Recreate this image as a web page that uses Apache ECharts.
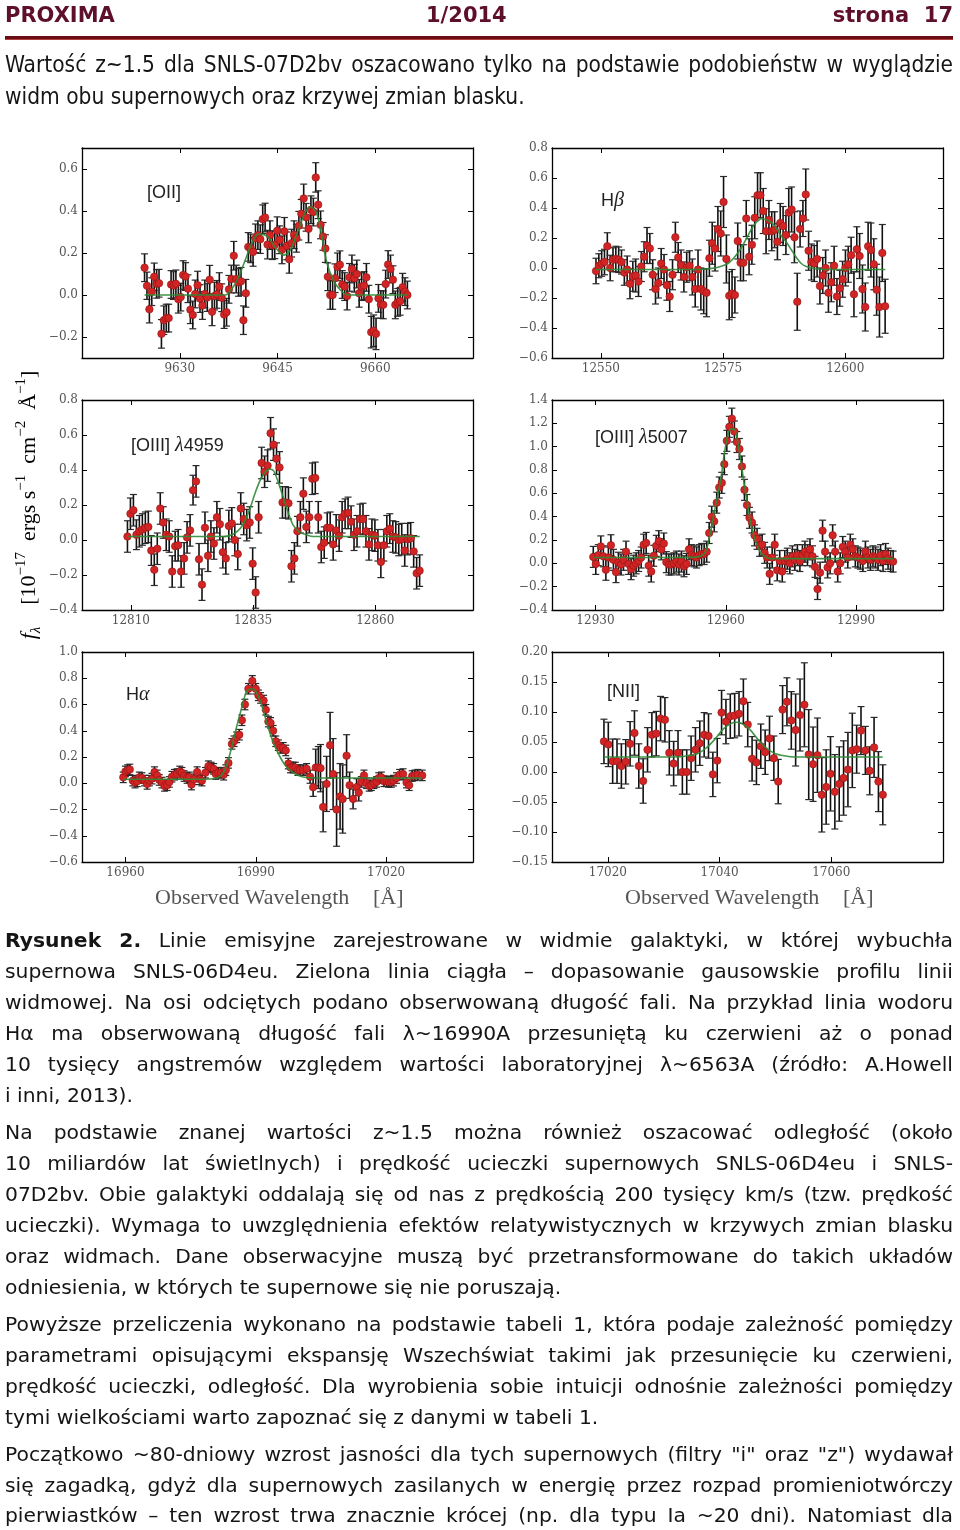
<!DOCTYPE html>
<html><head><meta charset="utf-8">
<script src="https://cdn.jsdelivr.net/npm/echarts@6/dist/echarts.min.js"></script>
<style>
html,body{margin:0;padding:0;background:#fff;}
#page{position:relative;width:960px;height:1530px;overflow:hidden;background:#fff;}
#chart{position:absolute;left:0;top:0;width:960px;height:930px;}
.hdr{position:absolute;top:1px;font-family:"DejaVu Sans",sans-serif;font-weight:bold;font-size:21px;color:#5e0f2c;line-height:28px;white-space:nowrap;}
.rule{position:absolute;left:5px;width:948px;top:36px;height:3px;background:#6a0d14;border-bottom:1px solid #b04040;}
.ln{position:absolute;left:5px;width:948px;height:30px;line-height:30px;font-family:"DejaVu Sans",Verdana,sans-serif;font-size:20.3px;color:#151515;white-space:nowrap;}
.ln .t{display:inline-block;white-space:nowrap;}
.cond{font-family:"DejaVu Sans Condensed","DejaVu Sans",sans-serif;font-stretch:condensed;font-size:22.5px;}
</style></head><body>
<div id="page">
<div id="chart"></div>
<div class="hdr" style="left:5px">PROXIMA</div>
<div class="hdr" style="left:426px">1/2014</div>
<div class="hdr" style="right:7px">strona&nbsp;&nbsp;17</div>
<div class="rule"></div>

<div class="ln cond j" style="top:49px"><span class="t">Wartość z~1.5 dla SNLS-07D2bv oszacowano tylko na podstawie podobieństw w wyglądzie</span></div>
<div class="ln cond" style="top:81px"><span class="t">widm obu supernowych oraz krzywej zmian blasku.</span></div>

<div class="ln j" style="top:925px"><span class="t"><b>Rysunek 2.</b> Linie emisyjne zarejestrowane w widmie galaktyki, w której wybuchła</span></div>
<div class="ln j" style="top:956px"><span class="t">supernowa SNLS-06D4eu. Zielona linia ciągła – dopasowanie gausowskie profilu linii</span></div>
<div class="ln j" style="top:987px"><span class="t">widmowej. Na osi odciętych podano obserwowaną długość fali. Na przykład linia wodoru</span></div>
<div class="ln j" style="top:1018px"><span class="t">Hα ma obserwowaną długość fali λ~16990A przesuniętą ku czerwieni aż o ponad</span></div>
<div class="ln j" style="top:1049px"><span class="t">10 tysięcy angstremów względem wartości laboratoryjnej λ~6563A (źródło: A.Howell</span></div>
<div class="ln" style="top:1080px"><span class="t">i inni, 2013).</span></div>

<div class="ln j" style="top:1117px"><span class="t">Na podstawie znanej wartości z~1.5 można również oszacować odległość (około</span></div>
<div class="ln j" style="top:1148px"><span class="t">10 miliardów lat świetlnych) i prędkość ucieczki supernowych SNLS-06D4eu i SNLS-</span></div>
<div class="ln j" style="top:1179px"><span class="t">07D2bv. Obie galaktyki oddalają się od nas z prędkością 200 tysięcy km/s (tzw. prędkość</span></div>
<div class="ln j" style="top:1210px"><span class="t">ucieczki). Wymaga to uwzględnienia efektów relatywistycznych w krzywych zmian blasku</span></div>
<div class="ln j" style="top:1241px"><span class="t">oraz widmach. Dane obserwacyjne muszą być przetransformowane do takich układów</span></div>
<div class="ln" style="top:1272px"><span class="t">odniesienia, w których te supernowe się nie poruszają.</span></div>

<div class="ln j" style="top:1309px"><span class="t">Powyższe przeliczenia wykonano na podstawie tabeli 1, która podaje zależność pomiędzy</span></div>
<div class="ln j" style="top:1340px"><span class="t">parametrami opisującymi ekspansję Wszechświat takimi jak przesunięcie ku czerwieni,</span></div>
<div class="ln j" style="top:1371px"><span class="t">prędkość ucieczki, odległość. Dla wyrobienia sobie intuicji odnośnie zależności pomiędzy</span></div>
<div class="ln" style="top:1402px"><span class="t">tymi wielkościami warto zapoznać się z danymi w tabeli 1.</span></div>

<div class="ln j" style="top:1439px"><span class="t">Początkowo ~80-dniowy wzrost jasności dla tych supernowych (filtry "i" oraz "z") wydawał</span></div>
<div class="ln j" style="top:1470px"><span class="t">się zagadką, gdyż dla supernowych zasilanych w energię przez rozpad promieniotwórczy</span></div>
<div class="ln j" style="top:1500px"><span class="t">pierwiastków – ten wzrost trwa znacznie krócej (np. dla typu Ia ~20 dni). Natomiast dla</span></div>
</div>

<script>
// ---------------- DATA ----------------
// Panel 1: [OII]
const p1x=[9624.60,9624.97,9625.34,9625.71,9626.08,9626.45,9626.82,9627.19,9627.56,9627.93,
9628.30,9628.67,9629.04,9629.41,9629.78,9630.15,9630.52,9630.89,9631.26,9631.63,
9632.00,9632.37,9632.74,9633.11,9633.48,9633.85,9634.22,9634.59,9634.96,9635.33,
9635.70,9636.07,9636.44,9636.81,9637.18,9637.55,9637.92,9638.29,9638.66,9639.03,
9639.40,9639.77,9640.14,9640.51,9640.88,9641.25,9641.62,9641.99,9642.36,9642.73,
9643.10,9643.47,9643.84,9644.21,9644.58,9644.95,9645.32,9645.69,9646.06,9646.43,
9646.80,9647.17,9647.54,9647.91,9648.28,9648.65,9649.02,9649.39,9649.76,9650.13,
9650.50,9650.87,9651.24,9651.61,9651.98,9652.35,9652.72,9653.09,9653.46,9653.83,
9654.20,9654.57,9654.94,9655.31,9655.68,9656.05,9656.42,9656.79,9657.16,9657.53,
9657.90,9658.27,9658.64,9659.01,9659.38,9659.75,9660.12,9660.49,9660.86,9661.23,
9661.60,9661.97,9662.34,9662.71,9663.08,9663.45,9663.82,9664.19,9664.56,9664.93];
const p1y=[0.13,0.044,-0.068,0.016,0.087,0.053,0.056,-0.185,-0.12,-0.11,
-0.11,0.05,0.045,0.053,-0.02,-0.01,0.095,0.088,0.03,-0.07,
-0.095,0.005,0.047,-0.017,-0.05,0.005,-0.012,0.073,-0.08,-0.005,
0.003,0.04,-0.013,-0.093,-0.082,0.027,0.076,0.187,0.076,0.06,
0.065,-0.12,0.008,0.229,0.222,0.205,0.27,0.285,0.266,0.361,
0.369,0.24,0.285,0.237,0.239,0.306,0.263,0.215,0.303,0.234,
0.17,0.247,0.287,0.27,0.33,0.387,0.46,0.37,0.315,0.406,
0.395,0.56,0.43,0.334,0.279,0.221,0.087,0.0,0.0,0.08,
0.134,0.144,0.05,0.04,-0.005,0.084,0.124,0.08,0.1,0.008,
0.04,0.045,0.084,-0.02,-0.177,-0.17,-0.185,-0.016,-0.045,-0.047,
0.052,0.145,0.124,0.073,-0.047,-0.035,-0.03,0.037,0.016,0.0];
const p1e=[0.066,0.065,0.065,0.066,0.065,0.068,0.066,0.068,0.068,0.066,
0.066,0.066,0.066,0.066,0.066,0.066,0.068,0.066,0.066,0.066,
0.066,0.066,0.066,0.066,0.066,0.066,0.066,0.068,0.066,0.066,
0.066,0.066,0.066,0.066,0.066,0.066,0.066,0.068,0.066,0.066,
0.066,0.068,0.066,0.068,0.068,0.068,0.068,0.068,0.068,0.068,
0.068,0.068,0.068,0.068,0.066,0.066,0.066,0.066,0.066,0.066,
0.066,0.066,0.066,0.066,0.068,0.068,0.068,0.066,0.066,0.066,
0.066,0.07,0.066,0.066,0.066,0.066,0.066,0.068,0.068,0.068,
0.066,0.066,0.066,0.066,0.066,0.066,0.066,0.066,0.066,0.066,
0.066,0.066,0.066,0.066,0.075,0.075,0.075,0.066,0.066,0.066,
0.066,0.066,0.066,0.066,0.066,0.066,0.066,0.066,0.066,0.066];
const p1fx=[9624.6,9637.0,9637.5,9638.8,9640.1,9641.1,9642.1,9643.4,9644.6,9645.9,9646.9,9648.2,9649.2,9650.1,9651.0,9651.8,9652.6,9653.6,9654.6,9655.9,9664.9];
const p1fy=[0,0,0.01,0.07,0.17,0.25,0.29,0.28,0.23,0.19,0.21,0.31,0.39,0.42,0.39,0.28,0.15,0.07,0.025,0.0,0.0];
const p1xt=[9630,9645,9660];
const p1yt=[-0.2,0,0.2,0.4,0.6];

// Panel 2: H-beta
const p2x=[12549.00,12549.58,12550.16,12550.74,12551.32,12551.90,12552.48,12553.06,12553.64,12554.22,
12554.80,12555.38,12555.96,12556.54,12557.12,12557.70,12558.28,12558.86,12559.44,12560.02,
12560.60,12561.18,12561.76,12562.34,12562.92,12563.50,12564.08,12564.66,12565.24,12565.82,
12566.40,12566.98,12567.56,12568.14,12568.72,12569.30,12569.88,12570.46,12571.04,12571.62,
12572.20,12572.78,12573.36,12573.94,12574.52,12575.10,12575.68,12576.26,12576.84,12577.42,
12578.00,12578.58,12579.16,12579.74,12580.32,12580.90,12581.48,12582.06,12582.64,12583.22,
12583.80,12584.38,12584.96,12585.54,12586.12,12586.70,12587.28,12587.86,12588.44,12589.02,
12589.60,12590.18,12590.76,12591.34,12591.92,12592.50,12593.08,12593.66,12594.24,12594.82,
12595.40,12595.98,12596.56,12597.14,12597.72,12598.30,12598.88,12599.46,12600.04,12600.62,
12601.20,12601.78,12602.36,12602.94,12603.52,12604.10,12604.68,12605.26,12605.84,12606.42,
12607.00,12607.58,12608.16];
const p2y=[-0.02,0.015,0.03,0.04,0.145,0.0,0.055,0.06,0.055,0.04,
-0.03,-0.01,-0.105,-0.055,-0.05,-0.09,0.01,0.075,0.15,0.13,
-0.045,-0.14,-0.1,0.03,-0.01,-0.115,-0.19,-0.045,0.205,0.07,
0.02,-0.06,0.005,0.015,-0.06,-0.14,-0.01,-0.14,-0.155,-0.165,
0.065,0.165,0.13,0.26,0.23,0.44,0.06,-0.185,-0.17,-0.18,
0.18,0.035,0.035,0.33,0.075,0.155,0.335,0.485,0.485,0.38,
0.245,0.32,0.245,0.255,0.175,0.3,0.28,0.22,0.37,0.39,
0.205,-0.225,0.26,0.33,0.49,0.115,0.04,0.03,0.06,-0.12,
-0.05,0.0,-0.165,-0.095,0.015,-0.19,-0.135,-0.075,0.0,0.025,
0.085,-0.175,0.125,0.08,-0.14,-0.26,0.145,0.12,0.025,-0.145,
-0.26,0.1,-0.255];
const p2e=[0.085,0.08,0.085,0.085,0.09,0.085,0.08,0.085,0.085,0.08,
0.085,0.09,0.1,0.1,0.11,0.1,0.1,0.1,0.12,0.1,
0.1,0.1,0.1,0.1,0.1,0.1,0.1,0.1,0.1,0.1,
0.1,0.1,0.1,0.1,0.12,0.12,0.13,0.14,0.15,0.16,
0.12,0.14,0.15,0.15,0.15,0.17,0.16,0.16,0.16,0.12,
0.12,0.12,0.12,0.12,0.12,0.13,0.14,0.15,0.15,0.15,
0.15,0.13,0.13,0.12,0.12,0.13,0.13,0.13,0.16,0.15,
0.17,0.19,0.12,0.12,0.17,0.13,0.12,0.12,0.12,0.12,
0.12,0.12,0.13,0.13,0.13,0.12,0.12,0.12,0.12,0.12,
0.12,0.15,0.15,0.15,0.16,0.16,0.16,0.18,0.17,0.17,
0.2,0.19,0.18];
const p2fx=[12549.0,12570,12572,12574,12576,12577,12578,12579,12580,12581,12582,12583,12584,12585,12586,12587,12588,12589,12590,12591,12592,12594,12596,12608.2];
const p2fy=[-0.01,-0.01,-0.005,0.005,0.03,0.06,0.1,0.15,0.21,0.27,0.31,0.33,0.32,0.3,0.26,0.21,0.17,0.12,0.07,0.03,0.01,-0.005,-0.01,-0.01];
const p2xt=[12550,12575,12600];
const p2yt=[-0.6,-0.4,-0.2,0,0.2,0.4,0.6,0.8];

// Panel 3: [OIII] 4959
const p3x=[12809.30,12809.91,12810.52,12811.13,12811.74,12812.35,12812.96,12813.57,12814.18,12814.79,
12815.40,12816.01,12816.62,12817.23,12817.84,12818.45,12819.06,12819.67,12820.28,12820.89,
12821.50,12822.11,12822.72,12823.33,12823.94,12824.55,12825.16,12825.77,12826.38,12826.99,
12827.60,12828.21,12828.82,12829.43,12830.04,12830.65,12831.26,12831.87,12832.48,12833.09,
12833.70,12834.31,12834.92,12835.53,12836.14,12836.75,12837.36,12837.97,12838.58,12839.19,
12839.80,12840.41,12841.02,12841.63,12842.24,12842.85,12843.46,12844.07,12844.68,12845.29,
12845.90,12846.51,12847.12,12847.73,12848.34,12848.95,12849.56,12850.17,12850.78,12851.39,
12852.00,12852.61,12853.22,12853.83,12854.44,12855.05,12855.66,12856.27,12856.88,12857.49,
12858.10,12858.71,12859.32,12859.93,12860.54,12861.15,12861.76,12862.37,12862.98,12863.59,
12864.20,12864.81,12865.42,12866.03,12866.64,12867.25,12867.86,12868.47,12869.08];
const p3y=[0.02,0.15,0.17,0.03,0.05,0.06,0.07,0.075,-0.06,-0.17,
-0.05,0.18,0.1,0.03,0.02,-0.18,-0.035,-0.03,-0.18,-0.105,
0.015,0.055,0.285,0.335,-0.11,-0.255,0.07,-0.09,0.02,-0.02,
0.13,0.09,-0.07,-0.105,0.08,0.095,0.0,-0.08,0.18,0.12,
0.085,0.1,-0.135,-0.3,0.13,0.44,0.39,0.425,0.61,0.545,
0.465,0.415,0.215,0.215,0.21,-0.15,-0.105,0.05,0.13,0.265,
0.075,0.13,0.35,0.355,0.13,-0.04,-0.015,0.07,0.07,-0.025,
0.055,0.025,0.13,0.15,0.155,0.105,0.03,0.05,0.12,0.12,
0.05,-0.025,0.03,0.025,-0.03,-0.125,-0.03,0.05,0.065,0.02,
0.015,0.0,0.005,-0.06,0.005,0.01,-0.065,-0.19,-0.175];
const p3e=[0.09,0.09,0.09,0.085,0.09,0.09,0.09,0.09,0.085,0.09,
0.09,0.09,0.09,0.09,0.09,0.09,0.085,0.09,0.09,0.09,
0.09,0.09,0.085,0.09,0.09,0.09,0.09,0.09,0.09,0.09,
0.09,0.09,0.09,0.09,0.09,0.09,0.09,0.09,0.09,0.09,
0.09,0.09,0.09,0.09,0.09,0.09,0.09,0.09,0.09,0.09,
0.09,0.09,0.09,0.09,0.09,0.09,0.09,0.085,0.09,0.09,
0.09,0.09,0.09,0.09,0.09,0.09,0.09,0.085,0.09,0.09,
0.09,0.09,0.09,0.085,0.09,0.09,0.09,0.09,0.085,0.09,
0.09,0.09,0.09,0.09,0.09,0.09,0.09,0.09,0.085,0.09,
0.09,0.09,0.09,0.09,0.09,0.09,0.09,0.09,0.09];
const p3fx=[12809.3,12829.0,12830.2,12831.6,12833.0,12834.3,12835.7,12837.0,12838.4,12839.2,12840.1,12841.1,12842.2,12843.2,12844.5,12845.9,12847.3,12869.1];
const p3fy=[0.02,0.02,0.025,0.045,0.09,0.175,0.29,0.37,0.405,0.395,0.335,0.25,0.155,0.085,0.045,0.03,0.02,0.02];
const p3xt=[12810,12835,12860];
const p3yt=[-0.4,-0.2,0,0.2,0.4,0.6,0.8];

// Panel 4: [OIII] 5007
const p4x=[12929.50,12930.08,12930.66,12931.24,12931.82,12932.40,12932.98,12933.56,12934.14,12934.72,
12935.30,12935.88,12936.46,12937.04,12937.62,12938.20,12938.78,12939.36,12939.94,12940.52,
12941.10,12941.68,12942.26,12942.84,12943.42,12944.00,12944.58,12945.16,12945.74,12946.32,
12946.90,12947.48,12948.06,12948.64,12949.22,12949.80,12950.38,12950.96,12951.54,12952.12,
12952.70,12953.28,12953.86,12954.44,12955.02,12955.60,12956.18,12956.76,12957.34,12957.92,
12958.50,12959.08,12959.66,12960.24,12960.82,12961.40,12961.98,12962.56,12963.14,12963.72,
12964.30,12964.88,12965.46,12966.04,12966.62,12967.20,12967.78,12968.36,12968.94,12969.52,
12970.10,12970.68,12971.26,12971.84,12972.42,12973.00,12973.58,12974.16,12974.74,12975.32,
12975.90,12976.48,12977.06,12977.64,12978.22,12978.80,12979.38,12979.96,12980.54,12981.12,
12981.70,12982.28,12982.86,12983.44,12984.02,12984.60,12985.18,12985.76,12986.34,12986.92,
12987.50,12988.08,12988.66,12989.24,12989.82,12990.40,12990.98,12991.56,12992.14,12992.72,
12993.30,12993.88,12994.46,12995.04,12995.62,12996.20,12996.78,12997.36,12997.94,12998.52];
const p4y=[0.055,-0.005,0.07,0.145,0.06,-0.055,0.05,0.155,0.03,-0.075,
0.005,-0.01,0.03,0.1,-0.005,-0.05,-0.02,0.0,0.02,0.05,
0.16,0.175,-0.02,-0.07,0.065,0.15,0.19,0.12,0.17,0.01,
-0.01,-0.01,0.0,0.015,-0.01,0.015,-0.025,-0.005,0.12,0.07,
0.06,0.05,0.07,0.08,0.08,0.1,0.26,0.4,0.36,0.52,
0.65,0.69,0.85,1.05,1.17,1.24,1.13,1.04,0.98,0.83,
0.63,0.5,0.39,0.35,0.24,0.21,0.15,0.16,0.09,0.05,
-0.09,0.05,0.16,-0.06,0.02,-0.07,0.02,0.04,0.0,0.06,
0.03,0.07,0.02,0.07,0.1,0.07,0.12,0.06,-0.03,-0.22,
-0.08,0.28,0.1,-0.035,0.0,0.24,0.1,-0.07,0.0,0.14,
0.1,0.05,0.16,0.12,0.06,0.05,0.04,0.02,0.1,0.05,
0.03,0.06,0.05,0.03,0.07,0.02,0.08,0.04,0.02,0.015];
const p4e=[0.09,0.09,0.09,0.09,0.09,0.09,0.09,0.09,0.09,0.09,
0.09,0.09,0.09,0.09,0.09,0.09,0.09,0.09,0.09,0.09,
0.09,0.09,0.09,0.09,0.09,0.09,0.09,0.09,0.09,0.09,
0.09,0.09,0.09,0.09,0.09,0.09,0.09,0.09,0.09,0.09,
0.09,0.09,0.09,0.09,0.09,0.09,0.09,0.09,0.09,0.09,
0.09,0.09,0.09,0.09,0.09,0.09,0.09,0.09,0.09,0.09,
0.09,0.09,0.09,0.09,0.09,0.09,0.09,0.09,0.09,0.09,
0.09,0.09,0.09,0.09,0.09,0.09,0.09,0.09,0.09,0.09,
0.09,0.09,0.09,0.09,0.09,0.09,0.09,0.09,0.09,0.09,
0.09,0.09,0.09,0.09,0.09,0.09,0.09,0.09,0.09,0.09,
0.09,0.09,0.09,0.09,0.09,0.09,0.09,0.09,0.09,0.09,
0.09,0.09,0.09,0.09,0.09,0.09,0.09,0.09,0.09,0.09];
const p4fx=[12929.5,12940,12950,12953.5,12955.0,12955.8,12956.6,12957.3,12958.1,12958.9,12959.6,12960.4,12961.1,12961.9,12962.7,12963.4,12964.2,12965.0,12965.7,12966.5,12967.3,12968.0,12969.2,12970.3,12980,12998.5];
const p4fy=[0.05,0.05,0.05,0.055,0.08,0.15,0.29,0.43,0.58,0.73,0.92,1.09,1.15,1.15,1.05,0.89,0.69,0.51,0.35,0.23,0.15,0.09,0.055,0.04,0.04,0.04];
const p4xt=[12930,12960,12990];
const p4yt=[-0.4,-0.2,0,0.2,0.4,0.6,0.8,1.0,1.2,1.4];

// Panel 5: H-alpha
const p5x=[16959.5,16960.0,16960.5,16961.0,16961.7,16962.2,16962.7,16963.2,16963.8,16964.4,
16965.0,16965.5,16966.1,16966.7,16967.3,16967.8,16968.4,16969.0,16969.6,16970.1,
16970.7,16971.3,16971.9,16972.5,16973.0,16973.5,16974.2,16974.7,16975.2,16975.8,
16976.5,16977.1,16977.6,16978.4,16979.1,16979.7,16980.3,16980.8,16981.4,16982.0,
16982.6,16983.1,16983.7,16984.5,16985.0,16985.6,16986.2,16986.8,16987.5,16988.3,16989.2,
16990.0,16990.6,16991.1,16991.8,16992.3,16992.9,16993.4,16994.0,16994.6,16995.2,
16995.7,16996.3,16996.9,16997.5,16998.0,16998.6,16999.1,16999.7,17000.2,17000.9,
17001.7,17002.5,17003.2,17003.8,17004.4,17004.9,17005.5,17006.3,17007.1,17007.8,
17008.6,17009.4,17010.0,17010.9,17011.6,17012.4,17013.2,17013.7,17014.3,17014.9,
17015.5,17016.1,17016.6,17017.2,17017.8,17018.3,17018.9,17019.5,17020.1,17020.6,
17021.2,17021.7,17022.4,17023.1,17023.9,17024.7,17025.3,17026.0,17026.6,17027.3,17028.3];
const p5y=[0.045,0.09,0.1,0.105,0.02,0.005,0.015,0.045,0.04,0.02,
-0.005,0.02,0.035,0.085,0.06,0.025,0.005,-0.02,-0.015,0.01,
0.05,0.065,0.07,0.09,0.08,0.055,0.04,0.045,-0.01,0.03,
0.085,0.03,0.02,0.08,0.13,0.12,0.11,0.07,0.08,0.08,
0.065,0.1,0.155,0.3,0.32,0.35,0.37,0.48,0.6,0.72,0.78,
0.72,0.67,0.65,0.63,0.56,0.47,0.46,0.4,0.32,0.29,
0.27,0.27,0.25,0.15,0.12,0.12,0.12,0.1,0.1,0.1,
0.11,0.05,-0.03,0.12,0.12,0.115,-0.18,-0.005,0.29,0.07,
-0.2,-0.1,-0.12,0.21,-0.015,-0.12,-0.03,-0.07,0.01,0.06,
0.0,-0.02,-0.015,0.0,0.01,0.04,0.045,0.015,0.015,0.01,
0.01,0.02,0.04,0.065,0.07,0.005,-0.015,0.055,0.06,0.065,0.06];
const p5e=[0.04,0.04,0.04,0.04,0.04,0.04,0.04,0.04,0.04,0.04,
0.04,0.04,0.04,0.04,0.04,0.04,0.04,0.04,0.04,0.04,
0.04,0.04,0.04,0.04,0.04,0.04,0.04,0.04,0.04,0.04,
0.04,0.04,0.04,0.04,0.04,0.04,0.04,0.04,0.04,0.04,
0.04,0.04,0.04,0.04,0.04,0.04,0.04,0.04,0.04,0.04,
0.04,0.04,0.04,0.04,0.04,0.04,0.04,0.04,0.04,0.04,
0.04,0.04,0.04,0.04,0.04,0.04,0.04,0.04,0.04,0.04,
0.04,0.04,0.05,0.07,0.14,0.16,0.18,0.19,0.21,0.25,
0.27,0.28,0.25,0.26,0.16,0.1,0.075,0.065,0.065,0.04,
0.04,0.04,0.04,0.04,0.04,0.04,0.04,0.04,0.04,0.04,
0.04,0.04,0.04,0.04,0.04,0.04,0.04,0.04,0.04,0.04,0.04,0.04];
const p5fx=[16959.5,16978,16981.0,16982.2,16983.3,16984.5,16985.6,16986.8,16987.9,16989.1,16989.8,16991.0,16992.1,16993.3,16994.4,16995.6,16996.7,16997.9,16999.4,17000.9,17003.2,17028.3];
const p5fy=[0.03,0.03,0.04,0.065,0.14,0.28,0.43,0.58,0.7,0.72,0.71,0.63,0.51,0.38,0.28,0.2,0.14,0.1,0.065,0.048,0.04,0.04];
const p5xt=[16960,16990,17020];
const p5yt=[-0.6,-0.4,-0.2,0,0.2,0.4,0.6,0.8,1.0];

// Panel 6: [NII]
const p6x=[17019.30,17020.08,17020.86,17021.64,17022.42,17023.20,17023.98,17024.76,17025.54,17026.32,
17027.10,17027.88,17028.66,17029.44,17030.22,17031.00,17031.78,17032.56,17033.34,17034.12,
17034.90,17035.68,17036.46,17037.24,17038.02,17038.80,17039.58,17040.36,17041.14,17041.92,
17042.70,17043.48,17044.26,17045.04,17045.82,17046.60,17047.38,17048.16,17048.94,17049.72,
17050.50,17051.28,17052.06,17052.84,17053.62,17054.40,17055.18,17055.96,17056.74,17057.52,
17058.30,17059.08,17059.86,17060.64,17061.42,17062.20,17062.98,17063.76,17064.54,17065.32,
17066.10,17066.88,17067.66,17068.44,17069.22];
const p6y=[0.051,0.046,0.018,0.018,0.01,0.017,0.047,0.065,0.01,-0.015,
0.037,0.062,0.064,0.089,0.087,0.032,0.014,0.032,0.0,0.0,
0.023,0.037,0.048,0.062,0.06,-0.004,0.019,0.099,0.084,0.093,
0.094,0.097,0.118,0.079,0.022,0.016,0.043,0.033,0.056,0.023,
-0.016,0.104,0.117,0.086,0.07,0.095,0.112,0.029,0.013,0.028,
-0.038,-0.025,-0.003,-0.033,-0.02,-0.01,0.004,0.036,0.038,0.069,
0.036,0.002,0.041,-0.016,-0.038];
const p6e=[0.037,0.037,0.037,0.037,0.037,0.037,0.037,0.037,0.037,0.037,
0.037,0.037,0.037,0.037,0.037,0.037,0.037,0.037,0.037,0.037,
0.037,0.037,0.037,0.037,0.037,0.037,0.037,0.037,0.037,0.037,
0.037,0.037,0.037,0.037,0.037,0.037,0.037,0.037,0.037,0.037,
0.037,0.04,0.04,0.048,0.06,0.06,0.07,0.075,0.062,0.062,
0.062,0.062,0.062,0.062,0.062,0.062,0.062,0.062,0.04,0.04,
0.04,0.04,0.05,0.05,0.05];
const p6fx=[17019.3,17032,17034.3,17036.1,17037.6,17039.1,17040.6,17042.1,17043.0,17043.9,17045.4,17046.9,17048.4,17049.9,17051.6,17053.4,17069.2];
const p6fy=[0.025,0.025,0.027,0.031,0.04,0.054,0.071,0.081,0.083,0.081,0.071,0.054,0.04,0.031,0.027,0.025,0.025];
const p6xt=[17020,17040,17060];
const p6yt=[-0.15,-0.10,-0.05,0,0.05,0.10,0.15,0.20];

// ---------------- LAYOUT / STYLE ----------------
const panels=[
 {x:p1x,y:p1y,e:p1e,fx:p1fx,fy:p1fy,xt:p1xt,yt:p1yt,xr:[9615,9675],yr:[-0.3,0.7],dec:1,pos:[82,148]},
 {x:p2x,y:p2y,e:p2e,fx:p2fx,fy:p2fy,xt:p2xt,yt:p2yt,xr:[12540,12620],yr:[-0.6,0.8],dec:1,pos:[552,148]},
 {x:p3x,y:p3y,e:p3e,fx:p3fx,fy:p3fy,xt:p3xt,yt:p3yt,xr:[12800,12880],yr:[-0.4,0.8],dec:1,pos:[82,400]},
 {x:p4x,y:p4y,e:p4e,fx:p4fx,fy:p4fy,xt:p4xt,yt:p4yt,xr:[12920,13010],yr:[-0.4,1.4],dec:1,pos:[552,400]},
 {x:p5x,y:p5y,e:p5e,fx:p5fx,fy:p5fy,xt:p5xt,yt:p5yt,xr:[16950,17040],yr:[-0.6,1.0],dec:1,pos:[82,652]},
 {x:p6x,y:p6y,e:p6e,fx:p6fx,fy:p6fy,xt:p6xt,yt:p6yt,xr:[17010,17080],yr:[-0.15,0.20],dec:2,pos:[552,652]}
];
const GW=391, GH=210;
const LBL={fontFamily:'DejaVu Serif',fontSize:12,color:'#555'};
const grid=[],xAxis=[],yAxis=[],series=[];
function fmtY(d){return v=>(v<-1e-9?'\u2212':'')+Math.abs(v).toFixed(d);}
function renderErr(params,api){
  const x=api.value(0),y=api.value(1),e=api.value(2);
  const t=api.coord([x,y+e]),b=api.coord([x,y-e]);
  const hw=3.5, st={stroke:'#111',lineWidth:1.6};
  return {type:'group',children:[
    {type:'line',shape:{x1:t[0],y1:t[1],x2:b[0],y2:b[1]},style:st},
    {type:'line',shape:{x1:t[0]-hw,y1:t[1],x2:t[0]+hw,y2:t[1]},style:{stroke:'#2a2a2a',lineWidth:1.2}},
    {type:'line',shape:{x1:b[0]-hw,y1:b[1],x2:b[0]+hw,y2:b[1]},style:{stroke:'#2a2a2a',lineWidth:1.2}}
  ]};
}
panels.forEach((p,k)=>{
  grid.push({left:p.pos[0],top:p.pos[1],width:GW,height:GH,containLabel:false});
  const axLine={show:true,onZero:false,lineStyle:{color:'#000',width:1.3}};
  const tick=(vals)=>({show:true,inside:true,length:5,customValues:vals,lineStyle:{color:'#000',width:1}});
  xAxis.push({gridIndex:k,type:'value',min:p.xr[0],max:p.xr[1],position:'bottom',axisLine:axLine,axisTick:tick(p.xt),
    axisLabel:Object.assign({show:true,customValues:p.xt,margin:5,formatter:v=>String(Math.round(v))},LBL),splitLine:{show:false}});
  xAxis.push({gridIndex:k,type:'value',min:p.xr[0],max:p.xr[1],position:'top',axisLine:axLine,axisTick:tick(p.xt),
    axisLabel:{show:false},splitLine:{show:false}});
  yAxis.push({gridIndex:k,type:'value',min:p.yr[0],max:p.yr[1],position:'left',axisLine:axLine,axisTick:tick(p.yt),
    axisLabel:Object.assign({show:true,customValues:p.yt,margin:4,formatter:fmtY(p.dec)},LBL),splitLine:{show:false}});
  yAxis.push({gridIndex:k,type:'value',min:p.yr[0],max:p.yr[1],position:'right',axisLine:axLine,axisTick:tick(p.yt),
    axisLabel:{show:false},splitLine:{show:false}});
  series.push({type:'custom',xAxisIndex:2*k,yAxisIndex:2*k,renderItem:renderErr,encode:{x:0,y:1},
    data:p.x.map((x,i)=>[x,p.y[i],p.e[i]]),z:2,silent:true});
  series.push({type:'scatter',xAxisIndex:2*k,yAxisIndex:2*k,symbol:'circle',symbolSize:7.5,
    itemStyle:{color:'#d22424',borderColor:'#8e1414',borderWidth:0.6,opacity:1},
    data:p.x.map((x,i)=>[x,p.y[i]]),z:3,silent:true});
  series.push({type:'line',xAxisIndex:2*k,yAxisIndex:2*k,showSymbol:false,smooth:0.3,
    lineStyle:{color:'#2f8a35',width:1.6,opacity:0.9},data:p.fx.map((x,i)=>[x,p.fy[i]]),z:4,silent:true});
});

const SANS='"Liberation Sans", Arial, sans-serif', SERIF='"Liberation Serif", serif';
function label(x,y,text,rich){
  return {type:'text',x:x,y:y,z:10,style:{text:text,rich:rich,fill:'#222',fontFamily:SANS,fontSize:18,
    align:'left',verticalAlign:'middle',textAlign:'left',textVerticalAlign:'middle'}};
}
const richLbl={a:{fontFamily:SANS,fontSize:18,color:'#222'},g:{fontFamily:SERIF,fontStyle:'italic',fontSize:20,color:'#222'}};
const graphic=[
  label(147,193,'{a|[OII]}',richLbl),
  label(601,201,'{a|H}{g|β}',richLbl),
  label(131,446,'{a|[OIII] }{g|λ}{a|4959}',richLbl),
  label(595,438,'{a|[OIII] }{g|λ}{a|5007}',richLbl),
  label(126,695,'{a|H}{g|α}',richLbl),
  label(607,692,'{a|[NII]}',richLbl),
  {type:'text',x:155,y:898,style:{text:'Observed Wavelength',fontFamily:SERIF,fontSize:22,fill:'#555',align:'left',verticalAlign:'middle'}},
  {type:'text',x:373,y:898,style:{text:'[Å]',fontFamily:SERIF,fontSize:22,fill:'#555',align:'left',verticalAlign:'middle'}},
  {type:'text',x:625,y:898,style:{text:'Observed Wavelength',fontFamily:SERIF,fontSize:22,fill:'#555',align:'left',verticalAlign:'middle'}},
  {type:'text',x:843,y:898,style:{text:'[Å]',fontFamily:SERIF,fontSize:22,fill:'#555',align:'left',verticalAlign:'middle'}},
  {type:'text',x:29,y:505,rotation:Math.PI/2,style:{
    text:'{i|f}{sub|λ}{n|    [10}{sup|−17}{n|  ergs s}{sup|−1}{n|  cm}{sup|−2}{n|  Å}{sup|−1}{n|]}',
    align:'center',verticalAlign:'middle',textAlign:'center',textVerticalAlign:'middle',
    rich:{
      n:{fontFamily:SERIF,fontSize:22,color:'#555',lineHeight:30,verticalAlign:'middle'},
      i:{fontFamily:SERIF,fontStyle:'italic',fontSize:22,color:'#555',lineHeight:30,verticalAlign:'middle'},
      sup:{fontFamily:SERIF,fontSize:15,color:'#555',lineHeight:16,verticalAlign:'top'},
      sub:{fontFamily:SERIF,fontStyle:'italic',fontSize:15,color:'#555',lineHeight:16,verticalAlign:'bottom'}
    }}}
];

const chart=echarts.init(document.getElementById('chart'),null,{renderer:'canvas'});
chart.setOption({animation:false,backgroundColor:'transparent',grid,xAxis,yAxis,series,graphic});

// justify text lines
function justify(){
  document.querySelectorAll('.ln').forEach(el=>{
    const t=el.querySelector('.t');
    t.style.wordSpacing='0px'; t.style.letterSpacing='0px';
    const W=948, w=t.getBoundingClientRect().width;
    const txt=t.textContent; const n=(txt.match(/ /g)||[]).length;
    if(el.classList.contains('j')){
      if(w<W && n>0) t.style.wordSpacing=((W-w)/n)+'px';
      else if(w>W) t.style.letterSpacing=((W-w)/txt.length)+'px';
    } else if(w>W){ t.style.letterSpacing=((W-w)/txt.length)+'px'; }
  });
}
justify();
if(document.fonts&&document.fonts.ready){document.fonts.ready.then(justify);}
</script>
</body></html>
